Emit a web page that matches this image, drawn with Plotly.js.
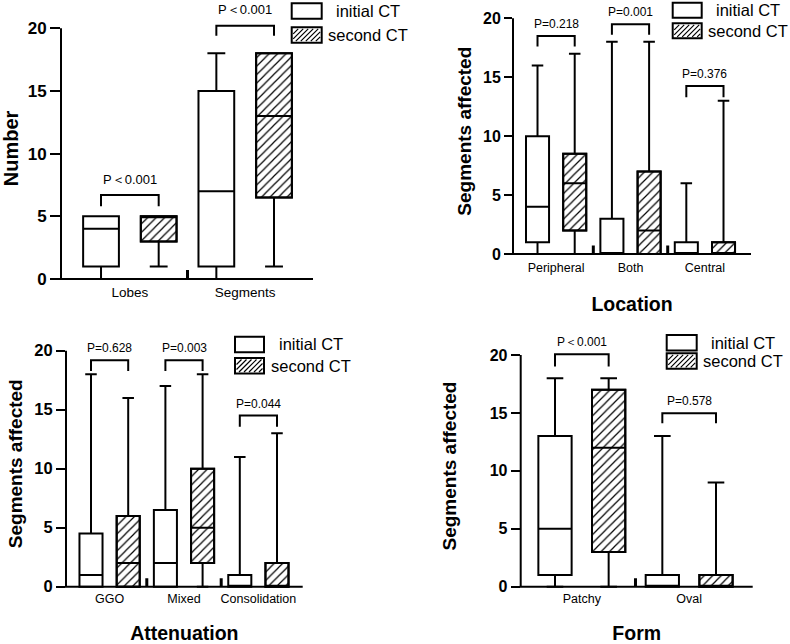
<!DOCTYPE html>
<html><head><meta charset="utf-8">
<script src="https://cdn.plot.ly/plotly-3.0.1.min.js"></script>
<style>html,body{margin:0;padding:0;background:#fff;}#chart{width:790px;height:644px;}</style>
</head><body><div id="chart"></div>
<script>
// ---------------- data (each box: [min, q1, median, q3, max]) ----------------
const seriesNames = ['initial CT', 'second CT'];
const yTickVals = [0, 5, 10, 15, 20];

const numberCats = ['Lobes', 'Segments'];
const numberInitial = [[0, 1, 4, 5, 5], [0, 1, 7, 15, 18]];
const numberSecond = [[1, 3, 5, 5, 5], [1, 6.5, 13, 18, 18]];
const numberP = ['P＜0.001', 'P＜0.001'];

const locationCats = ['Peripheral', 'Both', 'Central'];
const locationInitial = [[0, 1, 4, 10, 16], [0, 0, 0, 3, 18], [0, 0, 0, 1, 6]];
const locationSecond = [[0, 2, 6, 8.5, 17], [0, 0, 2, 7, 18], [0, 0, 0, 1, 13]];
const locationP = ['P=0.218', 'P=0.001', 'P=0.376'];

const attenCats = ['GGO', 'Mixed', 'Consolidation'];
const attenInitial = [[0, 0, 1, 4.5, 18], [0, 0, 2, 6.5, 17], [0, 0, 0, 1, 11]];
const attenSecond = [[0, 0, 2, 6, 16], [0, 2, 5, 10, 18], [0, 0, 0, 2, 13]];
const attenP = ['P=0.628', 'P=0.003', 'P=0.044'];

const formCats = ['Patchy', 'Oval'];
const formInitial = [[0, 1, 5, 13, 18], [0, 0, 0, 1, 13]];
const formSecond = [[0, 3, 12, 17, 18], [0, 0, 0, 1, 9]];
const formP = ['P＜0.001', 'P=0.578'];

// ---------------- layout configuration ----------------
const W = 790, H = 644;
const FONT = 'Liberation Sans, Arial, Helvetica, sans-serif';
const fx = px => px / W;
const fy = py => 1 - py / H;
const Y_TOP = 21;     // headroom above 20 for the brackets
const Y_BOT = -0.16;  // small room below 0 so the drawn x axis line is not clipped

const panels = [
  { cats: numberCats, init: numberInitial, sec: numberSecond, p: numberP,
    yTitle: 'Number', xTitle: '', yTitleSize: 20, tickSize: 17, catSize: 13.5, pSize: 13,
    px: [61, 313], py0: 279, py20: 28.3, xr: [-0.694, 3.676], ticklen: 10, yStand: 6,
    brackets: [[5.8, 6.7], [19.4, 20.2]], pShift: 16, catStand: 1, xStand: 23,
    legend: { x: 291.7, yA: 3.3, yB: 27.3, w: 30, h: 15.4 } },
  { cats: locationCats, init: locationInitial, sec: locationSecond, p: locationP,
    yTitle: 'Segments affected', xTitle: 'Location', yTitleSize: 19, tickSize: 16, catSize: 12.5, pSize: 12,
    px: [513, 751], py0: 254, py20: 18.3, xr: [-0.659, 5.739], ticklen: 8, yStand: 6,
    brackets: [[17.6, 18.5], [18.6, 19.5], [13.3, 14.26]], pShift: 12, catStand: 3, xStand: 22,
    legend: { x: 672.7, yA: 2.7, yB: 23.3, w: 29, h: 15 } },
  { cats: attenCats, init: attenInitial, sec: attenSecond, p: attenP,
    yTitle: 'Segments affected', xTitle: 'Attenuation', yTitleSize: 19, tickSize: 16.5, catSize: 12.5, pSize: 12,
    px: [66, 302.7], py0: 586.7, py20: 350.7, xr: [-0.672, 5.691], ticklen: 9, yStand: 6,
    brackets: [[18.27, 19.2], [18.27, 19.2], [13.56, 14.5]], pShift: 12, catStand: 1, xStand: 28,
    legend: { x: 235, yA: 336.7, yB: 358, w: 29, h: 15.5 } },
  { cats: formCats, init: formInitial, sec: formSecond, p: formP,
    yTitle: 'Segments affected', xTitle: 'Form', yTitleSize: 19, tickSize: 16, catSize: 12.5, pSize: 12,
    px: [520.7, 752.7], py0: 586.7, py20: 355, xr: [-0.639, 3.684], ticklen: 9, yStand: 28,
    brackets: [[19.0, 20.07], [14.1, 14.97]], pShift: 12, catStand: 1, xStand: 28,
    legend: { x: 666.7, yA: 335, yB: 353.3, w: 30, h: 15.5 } }
];

const BOXW = 0.62;
const traces = [];
const layout = {
  width: W, height: H, margin: { l: 0, r: 0, t: 0, b: 0 },
  paper_bgcolor: '#fff', plot_bgcolor: 'rgba(0,0,0,0)',
  showlegend: false, barmode: 'overlay', boxmode: 'overlay', hovermode: false,
  font: { family: FONT, color: '#000' },
  shapes: [], annotations: []
};

const col = (arr, i) => arr.map(r => r[i]);

panels.forEach((pn, k) => {
  const sfx = k === 0 ? '' : String(k + 1);
  const xa = 'x' + sfx, ya = 'y' + sfx;
  const n = pn.cats.length;
  const posInit = pn.cats.map((c, i) => 2 * i);
  const posSec = pn.cats.map((c, i) => 2 * i + 1);
  const pxPerUnit = (pn.py0 - pn.py20) / 20;

  // hatched fill for second CT (bar underneath the box outline)
  traces.push({
    type: 'bar', xaxis: xa, yaxis: ya, x: posSec,
    base: col(pn.sec, 1), y: pn.sec.map(r => r[3] - r[1]), width: BOXW,
    marker: { color: '#fff', line: { color: '#000', width: 2 },
      pattern: { shape: '/', fgcolor: '#000', bgcolor: '#fff', size: 6, solidity: 0.2 } },
    name: seriesNames[1]
  });
  // box plots
  [[pn.init, posInit, '#fff', seriesNames[0]], [pn.sec, posSec, 'rgba(0,0,0,0)', seriesNames[1]]].forEach(([d, pos, fill, nm]) => {
    traces.push({
      type: 'box', xaxis: xa, yaxis: ya, x: pos, name: nm,
      lowerfence: col(d, 0), q1: col(d, 1), median: col(d, 2), q3: col(d, 3), upperfence: col(d, 4),
      width: BOXW, whiskerwidth: 0.5, boxpoints: false, fillcolor: fill,
      line: { color: '#000', width: 2 }
    });
  });
  // significance brackets
  const bx = [], by = [];
  pn.cats.forEach((c, i) => {
    const [lo, hi] = pn.brackets[i];
    bx.push(2 * i, 2 * i, 2 * i + 1, 2 * i + 1, null);
    by.push(lo, hi, hi, lo, null);
    layout.annotations.push({
      xref: xa, yref: ya, x: 2 * i + 0.5, y: hi, yanchor: 'middle', xanchor: 'center',
      yshift: pn.pShift, text: pn.p[i], showarrow: false,
      font: { family: FONT, size: pn.pSize, color: '#000' }
    });
  });
  traces.push({ type: 'scatter', mode: 'lines', xaxis: xa, yaxis: ya, x: bx, y: by,
    cliponaxis: false, line: { color: '#000', width: 2 }, hoverinfo: 'skip' });

  // axis break marks between groups
  for (let i = 0; i < n - 1; i++) {
    layout.shapes.push({ type: 'line', xref: xa, yref: ya, x0: 2 * i + 1.5, x1: 2 * i + 1.5, y0: 0, y1: 0.72,
      line: { color: '#000', width: 3 } });
  }
  // axis lines: y from 0 to 20, x along y = 0
  layout.shapes.push({ type: 'line', xref: 'paper', yref: ya, x0: fx(pn.px[0]), x1: fx(pn.px[0]), y0: 0, y1: 20,
    line: { color: '#000', width: 2 } });
  layout.shapes.push({ type: 'line', xref: 'paper', yref: ya, x0: fx(pn.px[0] - 1), x1: fx(pn.px[1]), y0: 0, y1: 0,
    line: { color: '#000', width: 2 } });

  layout['xaxis' + sfx] = {
    domain: [fx(pn.px[0]), fx(pn.px[1])], anchor: ya, range: pn.xr,
    showline: false, showgrid: false, zeroline: false,
    ticks: '', tickvals: pn.cats.map((c, i) => 2 * i + 0.5), ticktext: pn.cats,
    ticklabelstandoff: pn.catStand, tickfont: { family: FONT, size: pn.catSize, color: '#000' },
    title: { text: pn.xTitle, standoff: pn.xStand, font: { family: FONT, size: 19.5, weight: 'bold', color: '#000' } },
    automargin: false, fixedrange: true
  };
  layout['yaxis' + sfx] = {
    domain: [fy(pn.py0 - Y_BOT * pxPerUnit), fy(pn.py0 - Y_TOP * pxPerUnit)], anchor: xa, range: [Y_BOT, Y_TOP],
    showline: false, showgrid: false, zeroline: false,
    ticks: 'outside', ticklen: pn.ticklen, tickwidth: 2, tickcolor: '#000',
    tickvals: yTickVals, tickfont: { family: FONT, size: pn.tickSize, weight: 'bold', color: '#000' },
    title: { text: pn.yTitle, standoff: pn.yStand, font: { family: FONT, size: pn.yTitleSize, weight: 'bold', color: '#000' } },
    automargin: false, fixedrange: true
  };

  // legend (drawn per panel)
  const L = pn.legend;
  const x0 = L.x, x1 = L.x + L.w;
  [L.yA, L.yB].forEach((yt, j) => {
    layout.shapes.push({ type: 'rect', xref: 'paper', yref: 'paper',
      x0: fx(x0), x1: fx(x1), y0: fy(yt), y1: fy(yt + L.h),
      fillcolor: '#fff', line: { color: '#000', width: 2 } });
    layout.annotations.push({ xref: 'paper', yref: 'paper', x: fx(x1 + 46.5), y: fy(yt + L.h / 2),
      xanchor: 'center', yanchor: 'middle', text: seriesNames[j], showarrow: false,
      font: { family: FONT, size: 16.5, color: '#000' } });
  });
  // hatch lines for second-CT swatch
  const ya0 = L.yB + 1.5, yb0 = L.yB + L.h - 1.5, xa0 = x0 + 1.5, xb0 = x1 - 1.5;
  let path = '';
  for (let c = xa0 + ya0 + 5; c < xb0 + yb0; c += 5) {
    const xs = Math.max(xa0, c - yb0), xe = Math.min(xb0, c - ya0);
    if (xe <= xs) continue;
    path += `M${fx(xs)},${fy(c - xs)}L${fx(xe)},${fy(c - xe)}`;
  }
  layout.shapes.push({ type: 'path', xref: 'paper', yref: 'paper', path: path,
    line: { color: '#000', width: 1.2 } });
});

Plotly.newPlot('chart', traces, layout, { staticPlot: true, displayModeBar: false });
</script></body></html>
